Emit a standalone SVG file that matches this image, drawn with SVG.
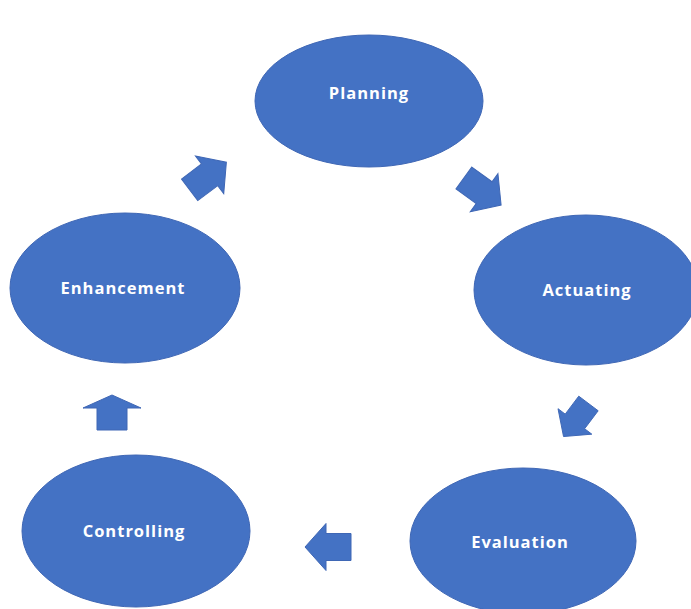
<svg xmlns="http://www.w3.org/2000/svg" width="691" height="609" viewBox="0 0 691 609">
<style>
.n{fill:#4472C4;stroke:#3F67B5;stroke-width:1}
.t{fill:#ffffff;font-family:"Open Sans","DejaVu Sans",sans-serif;font-weight:bold;font-size:16.5px;letter-spacing:1px;text-anchor:middle;dominant-baseline:central}
.a{fill:#4472C4;stroke:#3F67B5;stroke-width:1}
</style>
<defs>
<path id="arr" d="M-23,-13.5 L2,-13.5 L2,-23.5 L23,0 L2,23.5 L2,13.5 L-23,13.5 Z"/>
</defs>
<rect width="691" height="609" fill="#ffffff"/>
<g id="connectors">
<use href="#arr" class="a" transform="translate(208,176) rotate(-37)"/>
<use href="#arr" class="a" transform="translate(482.5,191.5) rotate(36)"/>
<use href="#arr" class="a" transform="translate(576,420) rotate(127) scale(0.9)"/>
<use href="#arr" class="a" transform="translate(328,547) rotate(180)"/>
<path class="a" d="M-15,17.5 L-15,-4.5 L-29,-4.5 L0,-17.5 L29,-4.5 L15,-4.5 L15,17.5 Z" transform="translate(112,412.5)"/>
</g>
<g id="planning"><ellipse class="n" cx="369" cy="101" rx="114" ry="66"/><text class="t" x="369" y="92">Planning</text></g>
<g id="actuating"><ellipse class="n" cx="586" cy="290" rx="112" ry="75"/><text class="t" x="587" y="289">Actuating</text></g>
<g id="evaluation"><ellipse class="n" cx="523" cy="541" rx="113" ry="73"/><text class="t" x="520" y="541">Evaluation</text></g>
<g id="controlling"><ellipse class="n" cx="136" cy="531" rx="114" ry="76"/><text class="t" x="134" y="530">Controlling</text></g>
<g id="enhancement"><ellipse class="n" cx="125" cy="288" rx="115" ry="75"/><text class="t" x="123" y="287">Enhancement</text></g>
</svg>
